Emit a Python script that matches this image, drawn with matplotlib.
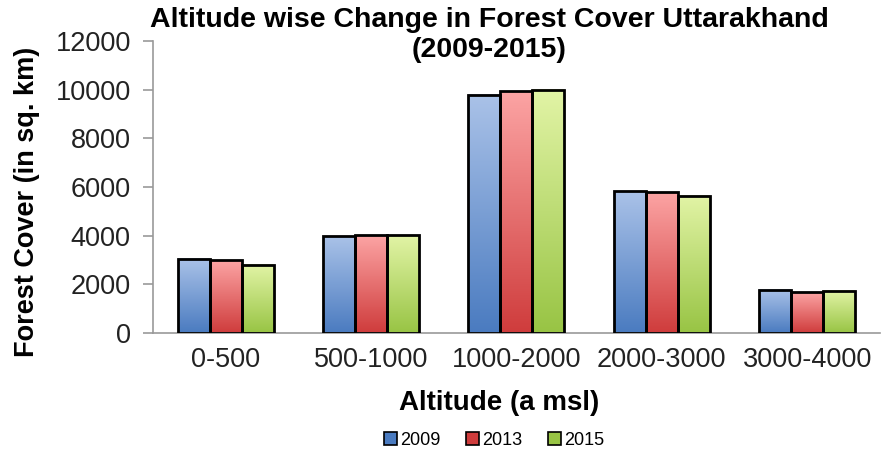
import numpy as np
import matplotlib.pyplot as plt
from matplotlib.colors import LinearSegmentedColormap
from matplotlib.patches import Patch

plt.rcParams['font.family'] = ['Liberation Sans', 'DejaVu Sans']

altitudes = ['0-500', '500-1000', '1000-2000', '2000-3000', '3000-4000']
years = ['2009', '2013', '2015']
cover_2009 = [3050, 3970, 9800, 5830, 1780]
cover_2013 = [2990, 4020, 9930, 5780, 1670]
cover_2015 = [2800, 4020, 10000, 5640, 1730]

series = [cover_2009, cover_2013, cover_2015]
# (top colour, bottom colour) for the gradient fills
shades = [('#aac2e8', '#4a7bc0'), ('#fca4a4', '#cf3c3c'), ('#e2f4a6', '#98c444')]

fig = plt.figure(figsize=(8.82, 4.54), dpi=100)
ax = fig.add_axes([0.1735, 0.2665, 0.824, 0.643])

x = np.arange(len(altitudes))
w = 0.22
grad = np.linspace(1, 0, 256).reshape(-1, 1)
for i, vals in enumerate(series):
    top, bottom = shades[i]
    cmap = LinearSegmentedColormap.from_list('g%d' % i, [bottom, top])
    bars = ax.bar(x + (i - 1) * w, vals, w, color='none', edgecolor='black',
                  linewidth=2, zorder=3)
    for b in bars:
        x0, y0 = b.get_x(), b.get_y()
        ax.imshow(grad, extent=[x0, x0 + b.get_width(), y0, y0 + b.get_height()],
                  cmap=cmap, aspect='auto', zorder=2, origin='upper')

ax.set_xlim(-0.5, len(altitudes) - 0.5)
ax.set_ylim(0, 12000)
ax.set_yticks(range(0, 12001, 2000))
ax.set_xticks(x)
ax.set_xticklabels(altitudes, fontsize=19.5, color='#222222')
ax.tick_params(axis='y', labelsize=19.5, labelcolor='#222222', direction='out',
               length=7, color='#999999', width=1.2, pad=9)
ax.tick_params(axis='x', length=0, pad=10)
for s in ['top', 'right']:
    ax.spines[s].set_visible(False)
for s in ['left', 'bottom']:
    ax.spines[s].set_color('#999999')
    ax.spines[s].set_linewidth(1.2)

ax.set_ylabel('Forest Cover (in sq. km)', fontsize=19.5, fontweight='bold')
ax.yaxis.set_label_coords(-0.155, 0.45)
ax.set_xlabel('Altitude (a msl)', fontsize=20, fontweight='bold')
ax.xaxis.set_label_coords(0.476, -0.195)

fig.text(0.555, 0.985, 'Altitude wise Change in Forest Cover Uttarakhand\n(2009-2015)',
         ha='center', va='top', fontsize=20.5, fontweight='bold', linespacing=1.2)

handles = [Patch(facecolor=shades[i][1], edgecolor='black', linewidth=1.2, label=years[i])
           for i in range(3)]
fig.legend(handles=handles, loc='center', bbox_to_anchor=(0.56, 0.03), ncol=3,
           frameon=False, fontsize=13, handlelength=0.75, handleheight=0.75,
           handletextpad=0.15, columnspacing=1.4)

fig.savefig('out.png', dpi=100)
